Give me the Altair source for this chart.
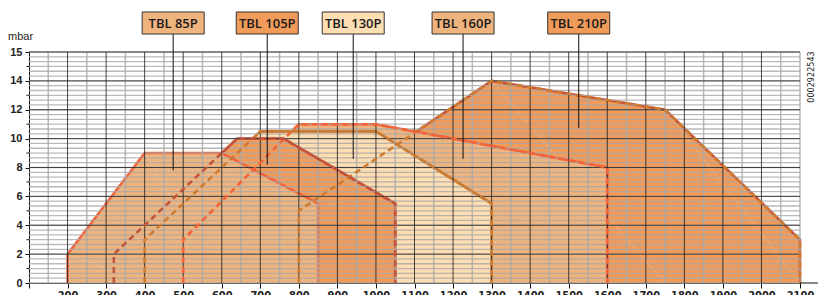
import altair as alt
import pandas as pd
import numpy as np

# ---------------- data ----------------
models = ["TBL 85P", "TBL 105P", "TBL 130P", "TBL 160P", "TBL 210P"]

x_85p = [200, 200, 400, 600, 850, 850]
y_85p = [0, 2, 9, 9, 5.5, 0]
x_105p = [320, 320, 640, 760, 1050, 1050]
y_105p = [0, 2, 10, 10, 5.5, 0]
x_130p = [400, 400, 700, 1000, 1300, 1300]
y_130p = [0, 3, 10.5, 10.5, 5.5, 0]
x_160p = [500, 500, 800, 1000, 1600, 1600]
y_160p = [0, 3, 11, 11, 8, 0]
x_210p = [800, 800, 1300, 1750, 2100, 2100]
y_210p = [0, 5, 14, 12, 3, 0]

# label pointer ends
label_x = [474, 718, 941, 1226, 1526]
label_y = [7.8, 8.2, 8.6, 8.6, 10.75]

x_ticks = list(range(100, 2200, 100))
y_ticks = [0, 2, 4, 6, 8, 10, 12, 14, 16]
y_minor = [1, 3, 5, 7, 9, 11, 13, 15]

fill_colors = {"TBL 85P": "#EFB47E", "TBL 105P": "#F09B5A", "TBL 130P": "#FDDDB2",
               "TBL 160P": "#EFB47E", "TBL 210P": "#F09B5A"}
line_colors = {"TBL 85P": "#F2643A", "TBL 105P": "#C9513A", "TBL 130P": "#C97A30",
               "TBL 160P": "#F2643A", "TBL 210P": "#C9513A"}
dash_colors = {"TBL 85P": "#F2643A", "TBL 105P": "#C2553C", "TBL 130P": "#CD7C32",
               "TBL 160P": "#F2643A", "TBL 210P": "#CD7C32"}
box_colors = ["#EFB47E", "#F09B5A", "#FDDDB2", "#EFB47E", "#F09B5A"]

xs = {"TBL 85P": x_85p, "TBL 105P": x_105p, "TBL 130P": x_130p, "TBL 160P": x_160p, "TBL 210P": x_210p}
ys = {"TBL 85P": y_85p, "TBL 105P": y_105p, "TBL 130P": y_130p, "TBL 160P": y_160p, "TBL 210P": y_210p}

rows = []
for m in models:
    for i, (xv, yv) in enumerate(zip(xs[m], ys[m])):
        rows.append({"model": m, "i": i, "x": xv, "y": yv})
df = pd.DataFrame(rows)

W, H = 771, 231
xscale = alt.Scale(domain=[100, 2100], nice=False, zero=False)
yscale = alt.Scale(domain=[0, 16], nice=False, zero=False)

LABEL_FONT = "Liberation Sans Narrow, DejaVu Sans Condensed, sans-serif"


def xaxis():
    return alt.Axis(values=x_ticks, grid=False, title=None, tickSize=5, tickColor="#111",
                    domainColor="#111", labelExpr="datum.value == 100 ? '' : datum.label",
                    labelFont=LABEL_FONT, labelFontSize=11, labelFontWeight="bold",
                    labelColor="#222", labelPadding=1, labelFlush=False, format="d")


def yaxis():
    return alt.Axis(values=y_ticks, grid=False, title=None, tickSize=4, tickColor="#111",
                    domainColor="#111", labelExpr="datum.value == 16 ? '15' : datum.label",
                    labelFont="Liberation Sans, Arial, sans-serif", labelFontSize=11,
                    labelFontWeight="bold", labelColor="#222", labelPadding=3, format="d")


def X(f):
    return alt.X(f, scale=xscale, axis=xaxis())


def Y(f):
    return alt.Y(f, scale=yscale, axis=yaxis())


base = alt.Chart(df)
draw_order = ["TBL 210P", "TBL 160P", "TBL 130P", "TBL 105P", "TBL 85P"]

layers = []
for m in draw_order:
    sub = base.transform_filter(alt.datum.model == m)
    area = sub.mark_area(color=fill_colors[m], opacity=1).encode(
        x=X("x:Q"), y=Y("y:Q"), order="i:O")
    line = sub.mark_line(color=line_colors[m], strokeWidth=2.6, strokeJoin="miter").encode(
        x=X("x:Q"), y=Y("y:Q"), order="i:O")
    layers += [area, line]

# grid
v_gray = pd.DataFrame({"x": list(np.arange(150, 2100, 100)) + [2100]})
v_black = pd.DataFrame({"x": list(range(200, 2100, 100))})
h_gray = pd.DataFrame({"y": [k / 3 for k in range(0, 49)]})
h_black = pd.DataFrame({"y": [2, 4, 6, 8, 10, 12, 14, 16]})

layers.append(alt.Chart(h_gray).mark_rule(color="#A8A8A8", strokeWidth=1.3, opacity=0.8).encode(
    y=Y("y:Q")))
layers.append(alt.Chart(v_gray).mark_rule(color="#A8A8A8", strokeWidth=1.5, opacity=0.8).encode(
    x=X("x:Q")))
layers.append(alt.Chart(v_black).mark_rule(color="#1a1a1a", strokeWidth=1, opacity=0.8).encode(
    x=X("x:Q")))
layers.append(alt.Chart(h_black).mark_rule(color="#1a1a1a", strokeWidth=1, opacity=0.75).encode(
    y=Y("y:Q")))

# dashed outlines for the parts hidden under other areas
for m in ["TBL 210P", "TBL 160P", "TBL 130P", "TBL 105P"]:
    sub = base.transform_filter(alt.datum.model == m)
    layers.append(sub.mark_line(color=dash_colors[m], strokeWidth=2.6, strokeDash=[6, 4]).encode(
        x=X("x:Q"), y=Y("y:Q"), order="i:O"))

# minor y ticks
layers.append(alt.Chart(pd.DataFrame({"y": y_minor})).mark_rule(color="#111", strokeWidth=1).encode(
    y=Y("y:Q"), x=alt.value(-2.5), x2=alt.value(0)))

# x axis extension
layers.append(alt.Chart(pd.DataFrame({"a": [0]})).mark_rule(color="#111", strokeWidth=1).encode(
    x=alt.value(W), x2=alt.value(W + 18), y=alt.value(H)))

# labels
lab = pd.DataFrame({"model": models, "x": label_x, "y": label_y})
layers.append(alt.Chart(lab).mark_rule(color="#111", strokeWidth=1).encode(
    x=X("x:Q"), y=Y("y:Q"), y2=alt.value(-18)))
layers.append(alt.Chart(lab).mark_point(
    shape="M-1,-0.355L1,-0.355L1,0.355L-1,0.355Z", size=62 * 62, filled=True,
    stroke="#333", strokeWidth=1, opacity=1).encode(
    x=X("x:Q"),
    y=alt.value(-29),
    fill=alt.Color("model:N", scale=alt.Scale(domain=models, range=box_colors), legend=None)))
layers.append(alt.Chart(lab).mark_text(
    font="Open Sans, sans-serif", fontSize=13, fontWeight=600, color="#1a1a1a",
    baseline="middle", align="center").encode(
    x=X("x:Q"), y=alt.value(-28.5), text="model:N"))

# unit and id annotations
layers.append(alt.Chart(pd.DataFrame({"t": ["mbar"]})).mark_text(
    font="Liberation Sans, Arial, sans-serif", fontSize=11, color="#222", align="left",
    baseline="middle").encode(x=alt.value(-21), y=alt.value(-15), text="t:N"))
layers.append(alt.Chart(pd.DataFrame({"t": ["0002922543"]})).mark_text(
    font=LABEL_FONT, fontSize=9, color="#222", angle=270, align="center",
    baseline="middle").encode(x=alt.value(782), y=alt.value(25), text="t:N"))

chart = alt.layer(*layers).properties(
    width=W, height=H,
    autosize=alt.AutoSizeParams(type="none"),
    padding={"left": 21, "top": 44, "right": 18, "bottom": 12},
).configure_view(strokeWidth=0)

chart.save("out.html", embed_options={"renderer": "svg", "actions": False})
